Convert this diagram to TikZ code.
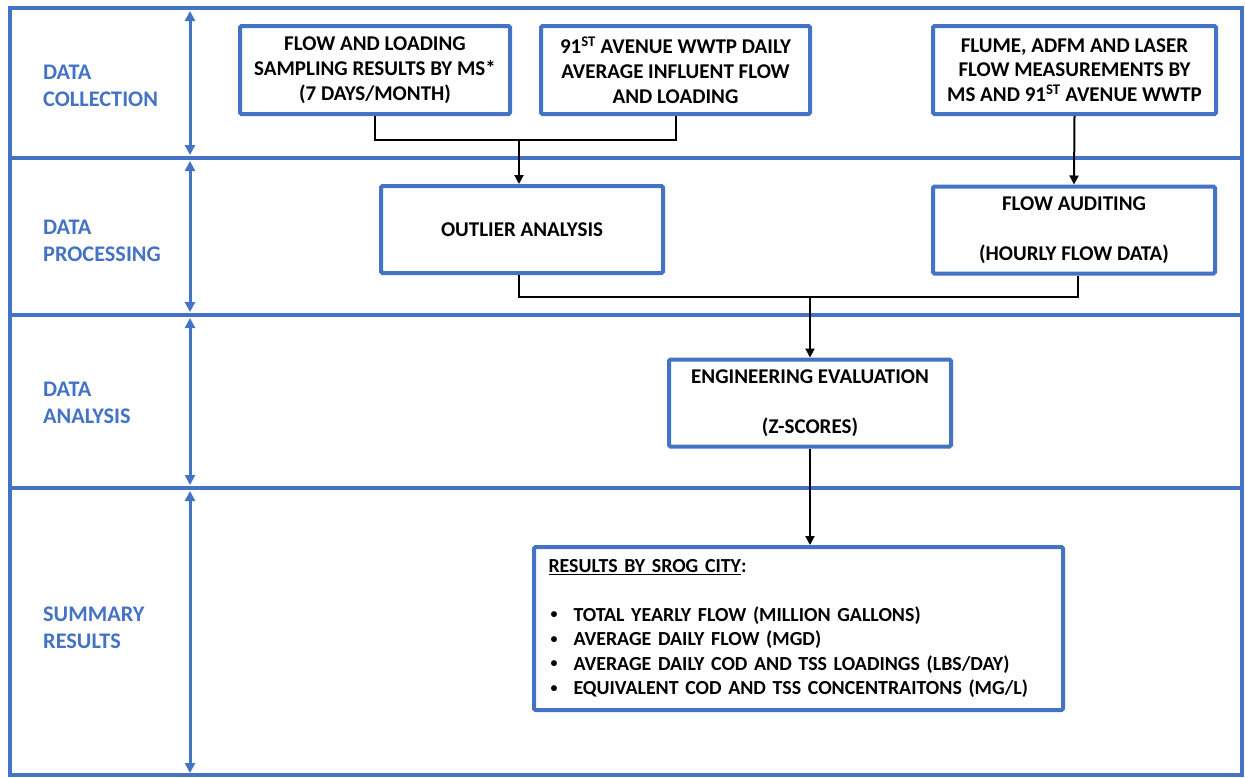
\documentclass[tikz,border=0pt]{standalone}
\usepackage{fontspec}
\setmainfont{Carlito}
\usetikzlibrary{arrows.meta}
\definecolor{lane}{HTML}{4472C4}
\newcommand{\smallbul}{\hspace*{2pt}\makebox[23pt][l]{\raisebox{0.25ex}{\scalebox{0.7}{•}}}}
\begin{document}
\begin{tikzpicture}[x=1pt,y=-1pt,
  box/.style={draw=lane, line width=4pt, rounded corners=1.5pt, fill=white, align=center, inner sep=0pt,
    font=\bfseries\fontsize{21}{24.8}\selectfont},
  lanelabel/.style={anchor=west, text=lane, align=left, inner sep=0pt,
    font=\bfseries\fontsize{22.3}{27}\selectfont},
  lanearrow/.style={draw=lane, line width=3pt, {Triangle[width=10pt,length=10pt]}-{Triangle[width=10pt,length=10pt]}},
  conn/.style={draw=black, line width=2pt},
  connarrow/.style={conn, -{Triangle[width=9pt,length=9pt]}},
  frame/.style={draw=lane, line width=4pt}
]
\useasboundingbox (0,0) rectangle (1245,777);
% frame and lane separators
\draw[frame] (10,8) rectangle (1242,775);
\draw[frame] (10,158) -- (1242,158);
\draw[frame] (10,315) -- (1242,315);
\draw[frame] (10,488) -- (1242,488);
% lane arrows
\coordinate (a1t) at (190,11);  \coordinate (a1b) at (190,155);
\coordinate (a2t) at (190,161); \coordinate (a2b) at (190,312);
\coordinate (a3t) at (190,318); \coordinate (a3b) at (190,485);
\coordinate (a4t) at (190,491); \coordinate (a4b) at (190,773);
\draw[lanearrow] (a1t) -- (a1b);
\draw[lanearrow] (a2t) -- (a2b);
\draw[lanearrow] (a3t) -- (a3b);
\draw[lanearrow] (a4t) -- (a4b);
% lane labels
\node[lanelabel] (l1) at (43,86) {DATA\\COLLECTION};
\node[lanelabel] (l2) at (43,241) {DATA\\PROCESSING};
\node[lanelabel] (l3) at (43,403) {DATA\\ANALYSIS};
\node[lanelabel] (l4) at (43,628) {SUMMARY\\RESULTS};
% boxes
\node[box, minimum width=270pt, minimum height=88pt] (b1) at (375,70)
  {FLOW AND LOADING\\SAMPLING RESULTS BY MS*\\(7 DAYS/MONTH)};
\node[box, minimum width=269pt, minimum height=88pt] (b2) at (675.5,70)
  {91\textsuperscript{ST} AVENUE WWTP DAILY\\AVERAGE INFLUENT FLOW\\AND LOADING};
\node[box, minimum width=283pt, minimum height=88pt] (b3) at (1074.5,70)
  {FLUME, ADFM AND LASER\\FLOW MEASUREMENTS BY\\MS AND 91\textsuperscript{ST} AVENUE WWTP};
\node[box, minimum width=282pt, minimum height=87pt] (out) at (522,229.5)
  {OUTLIER ANALYSIS};
\node[box, minimum width=282pt, minimum height=87pt] (fa) at (1074,230)
  {FLOW AUDITING\\[24.8pt](HOURLY FLOW DATA)};
\node[box, minimum width=282pt, minimum height=87pt] (eng) at (810,403)
  {ENGINEERING EVALUATION\\[24.8pt](Z-SCORES)};
\node[box, minimum width=529pt, minimum height=163pt, align=left, text width=500pt,
      font=\bfseries\fontsize{19.9}{24.4}\selectfont] (res) at (798.5,628.5)
  {\underline{RESULTS BY SROG CITY}:\\[24.4pt]
   \smallbul TOTAL YEARLY FLOW (MILLION GALLONS)\\
   \smallbul AVERAGE DAILY FLOW (MGD)\\
   \smallbul AVERAGE DAILY COD AND TSS LOADINGS (LBS/DAY)\\
   \smallbul EQUIVALENT COD AND TSS CONCENTRAITONS (MG/L)};
% connectors
\coordinate (j1) at (519,140);
\coordinate (j2) at (810,297);
\draw[conn] (b1.south) |- (j1);
\draw[conn] (b2.south) |- (j1);
\draw[connarrow] (j1) -- (j1 |- out.north);
\draw[connarrow] (b3.south) -- (fa.north);
\draw[conn] (j1 |- out.south) |- (j2);
\draw[conn] ([xshift=4pt]fa.south) |- (j2);
\draw[connarrow] (j2) -- (eng.north);
\draw[connarrow] (eng.south) -- (eng.south |- res.north);
\end{tikzpicture}
\end{document}
